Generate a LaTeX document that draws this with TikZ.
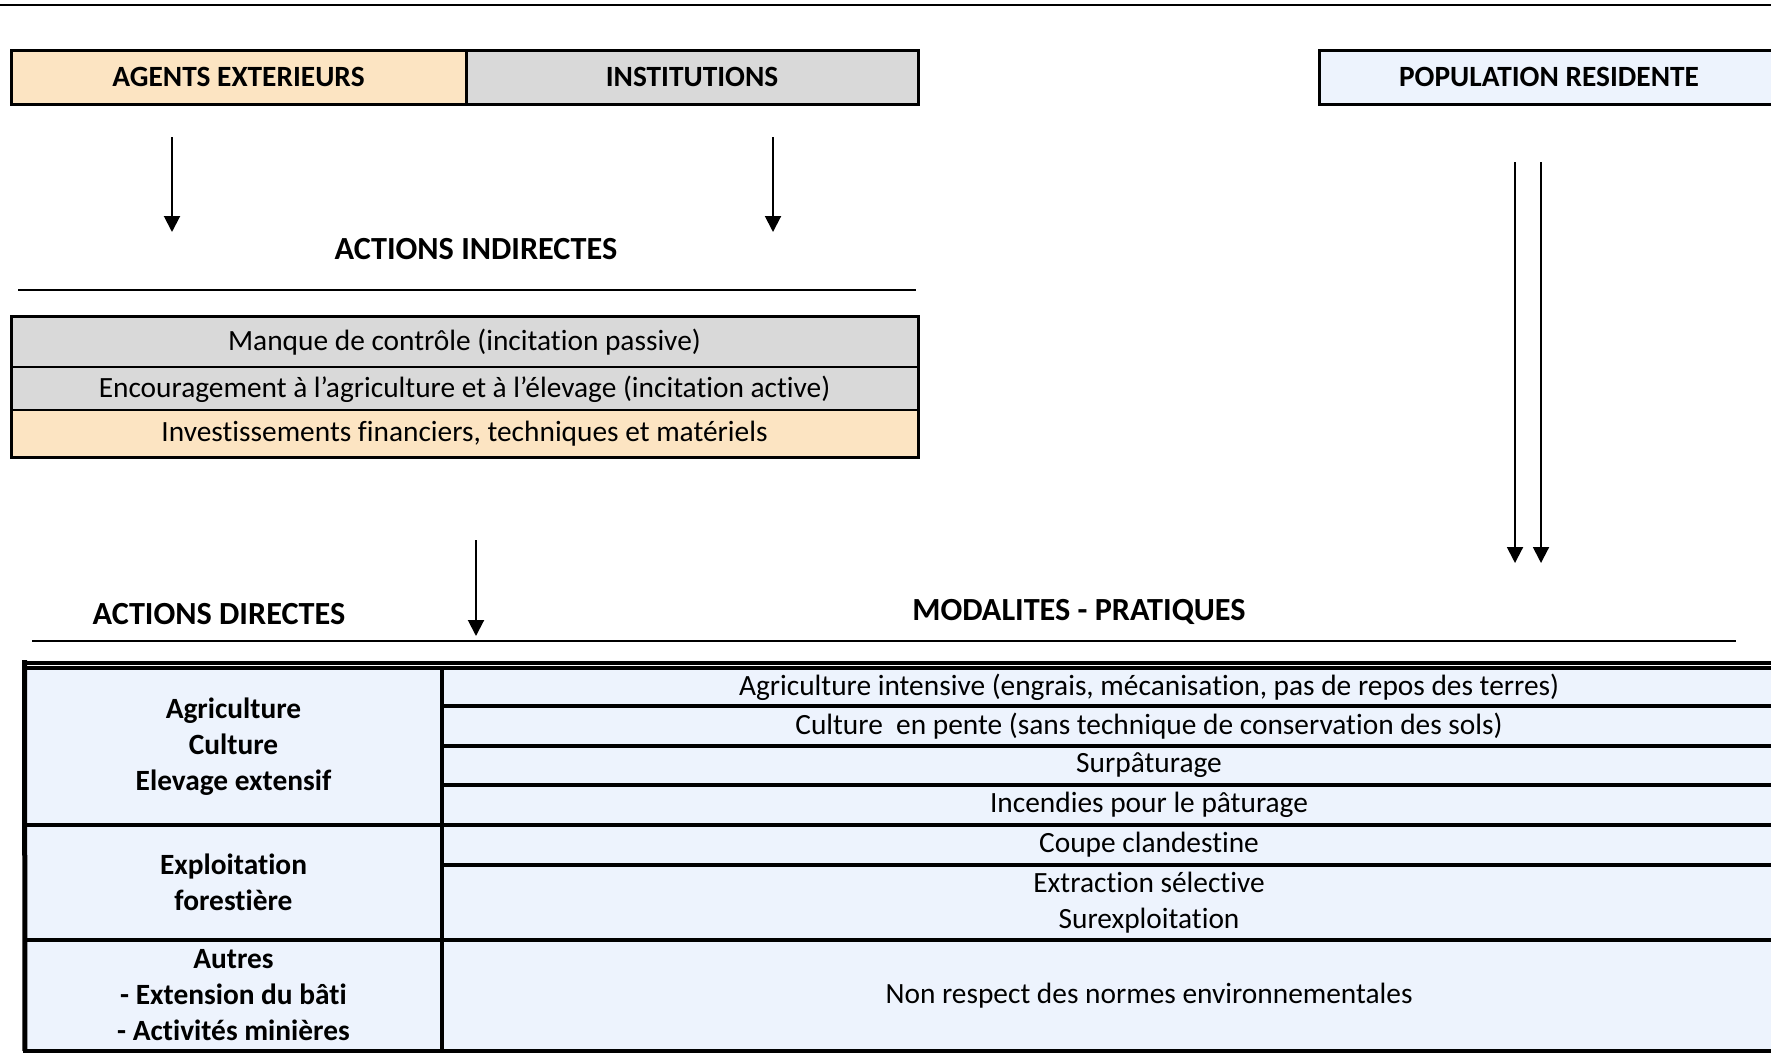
\documentclass[tikz,border=0pt]{standalone}
\usepackage{fontspec}
\setmainfont{Carlito}[Ligatures=NoCommon]
\usetikzlibrary{positioning,arrows.meta}
\definecolor{peach}{RGB}{252,228,194}
\definecolor{grey}{RGB}{217,217,217}
\definecolor{pale}{RGB}{237,243,253}
\newcommand\txt{\fontsize{11.75}{14.4}\selectfont}
\newcommand\bigtxt{\fontsize{12.9}{15.5}\selectfont}

\begin{document}
\begin{tikzpicture}[x=0.4pt,y=-0.4pt,
    head/.style={draw,line width=1.2pt,minimum height=21.6pt,inner sep=0pt,
      outer sep=0pt,font=\txt\bfseries},
    row/.style={draw,line width=0.8pt,minimum width=362.8pt,inner sep=0pt,
      outer sep=0pt,text depth=1.5pt,font=\txt},
    lcell/.style={draw,line width=1.4pt,fill=pale,minimum width=166.8pt,
      inner sep=0pt,outer sep=0pt,align=center,font=\txt\bfseries},
    rcell/.style={draw,line width=1.4pt,fill=pale,minimum width=565.6pt,
      inner sep=0pt,outer sep=0pt,align=center,font=\txt},
    title/.style={font=\bigtxt\bfseries},
    >={Triangle[length=6.4pt,width=6.4pt]}]

  \path[use as bounding box,clip] (0,0) rectangle (1771,1053);

  \draw[line width=1pt] (0,5) -- (1771,5);

  \node[head,fill=peach,minimum width=182pt,anchor=north west] (agents) at (11,50) {AGENTS EXTERIEURS};
  \node[head,fill=grey,minimum width=180.8pt,right=0pt of agents] (inst) {INSTITUTIONS};
  \node[head,fill=pale,minimum width=184pt,anchor=north west] (pop) at (1319,50) {POPULATION RESIDENTE};

  \node[title] (indir) at (476,249) {ACTIONS INDIRECTES};
  \draw[line width=0.6pt] (18,290) -- (916,290);

  \node[row,fill=grey,minimum height=20.4pt,anchor=north west] (ctrl) at (11,316) {Manque de contrôle (incitation passive)};
  \node[row,fill=grey,minimum height=17.2pt,below=0pt of ctrl] (enc) {Encouragement à l’agriculture et à l’élevage (incitation active)};
  \node[row,fill=peach,minimum height=18.8pt,below=0pt of enc] (inv) {Investissements financiers, techniques et matériels};
  \draw[line width=1.2pt] (ctrl.north west) rectangle (inv.south east);

  \node[title] (direct) at (219,614) {ACTIONS DIRECTES};
  \node[title] (modal) at (1079,612) {MODALITES - PRATIQUES};
  \draw[line width=0.6pt] (32,641) -- (1736,641);

  \node[lcell,minimum height=62.8pt,anchor=north west] (agri) at (25,668) {Agriculture\\Culture\\Elevage extensif};
  \node[lcell,minimum height=46pt,below=0pt of agri] (forest) {Exploitation\\forestière};
  \node[lcell,minimum height=44.4pt,below=0pt of forest] (other) {Autres\\- Extension du bâti\\- Activités minières};

  \node[rcell,minimum height=15.2pt,anchor=north west] (m1) at (agri.north east) {Agriculture intensive (engrais, mécanisation, pas de repos des terres)};
  \node[rcell,minimum height=16pt,below=0pt of m1] (m2) {Culture \ en pente (sans technique de conservation des sols)};
  \node[rcell,minimum height=15.6pt,below=0pt of m2] (m3) {Surpâturage};
  \node[rcell,minimum height=16pt,below=0pt of m3] (m4) {Incendies pour le pâturage};
  \node[rcell,minimum height=16pt,below=0pt of m4] (m5) {Coupe clandestine};
  \node[rcell,minimum height=30pt,below=0pt of m5] (m6) {Extraction sélective\\Surexploitation};
  \node[rcell,minimum height=44.4pt,below=0pt of m6] (m7) {Non respect des normes environnementales};

  \draw[line width=1.6pt] (22,663) -- (1800,663);
  \draw[line width=0.6pt] (25,668) -- (1800,668);
  \draw[line width=2pt] (24.5,660) -- (other.south west);

  \foreach \n/\x/\ya/\yb in {1/172/137/232, 2/773/137/232, 3/476/540/636,
      4/1515/162/563, 5/1541/162/563} {
    \coordinate (s\n) at (\x,\ya);
    \coordinate (e\n) at (\x,\yb);
    \draw[->,line width=0.8pt] (s\n) -- (e\n);
  }

\end{tikzpicture}
\end{document}
